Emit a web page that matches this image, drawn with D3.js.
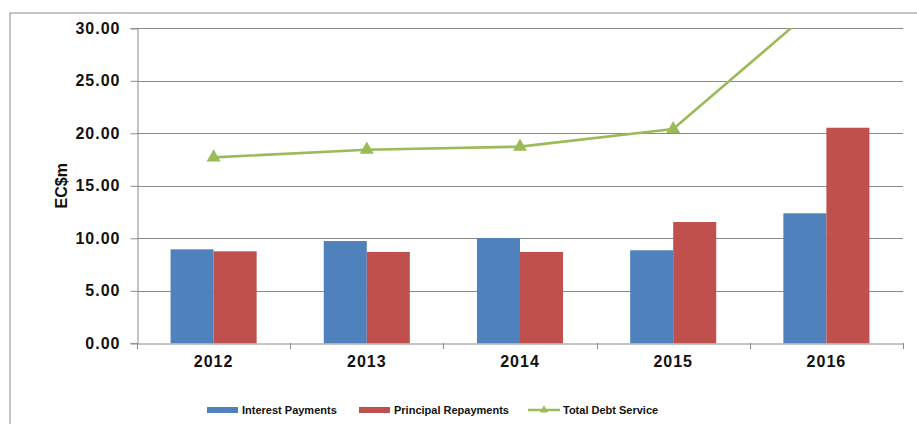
<!DOCTYPE html>
<html><head><meta charset="utf-8">
<script src="https://cdn.jsdelivr.net/npm/d3@7"></script>
<style>body{margin:0;background:#fff}svg{display:block}</style>
</head><body>
<script>
const years = ["2012","2013","2014","2015","2016"];
const interest = [8.95, 9.74, 10.03, 8.86, 12.38];
const principal = [8.76, 8.70, 8.70, 11.55, 20.53];
const total = [17.71, 18.44, 18.73, 20.41, 32.91];
const yTicks = [0, 5, 10, 15, 20, 25, 30];
const seriesNames = ["Interest Payments", "Principal Repayments", "Total Debt Service"];
const colors = ["#4F81BD", "#C0504D", "#9BBB59"];

const W = 917, H = 424;
const svg = d3.select("body").append("svg").attr("width", W).attr("height", H);
svg.append("rect").attr("x", 10).attr("y", 13).attr("width", 1000).attr("height", 1000)
  .attr("fill", "none").attr("stroke", "#8c8c8c").attr("stroke-width", 1);

const L = 137, R = 903, T = 28.3, B = 343.3;
const x = d3.scaleBand().domain(years).range([L, R]).paddingInner(0).paddingOuter(0);
const y = d3.scaleLinear().domain([0, 30]).range([B, T]);
const sub = d3.scaleBand().domain([0,1]).range([0, x.bandwidth()]).paddingOuter(0.78).paddingInner(0);
// grid
svg.append("g").selectAll("line").data(yTicks.filter(d=>d>0)).join("line")
  .attr("x1", L).attr("x2", R).attr("y1", d=>Math.round(y(d))+0.5).attr("y2", d=>Math.round(y(d))+0.5)
  .attr("stroke", "#8a8a8a").attr("stroke-width", 1);

// bars
const g = svg.append("g");
years.forEach((yr, i) => {
  [interest[i], principal[i]].forEach((v, j) => {
    g.append("rect").attr("x", x(yr) + sub(j)).attr("width", sub.bandwidth())
      .attr("y", y(v)).attr("height", B - y(v)).attr("fill", colors[j]);
  });
});

const FONT = "Liberation Sans, Arial, sans-serif";
// y axis
const ya = d3.axisLeft(y).tickValues(yTicks).tickFormat(d3.format(".2f")).tickSize(7).tickPadding(10);
const yg = svg.append("g").attr("transform", `translate(${L+0.5},0)`).call(ya);
yg.select(".domain").attr("stroke", "#8a8a8a");
yg.selectAll(".tick line").attr("stroke", "#8a8a8a");
yg.selectAll("text").attr("font-family", FONT).attr("font-weight", "bold")
  .attr("font-size", 16).attr("letter-spacing", "1px").attr("fill", "#111");

// x axis
const xa = d3.axisBottom(x).tickSize(0).tickPadding(12);
const xg = svg.append("g").attr("transform", `translate(0,${Math.round(B)+0.5})`).call(xa);
xg.select(".domain").attr("stroke", "#8a8a8a");
xg.selectAll("text").attr("font-family", FONT).attr("font-weight", "bold")
  .attr("font-size", 16).attr("letter-spacing", "1px").attr("fill", "#111");
// category boundary ticks
svg.append("g").selectAll("line").data(years.map(d=>x(d)).concat([R])).join("line")
  .attr("x1", d=>Math.round(d)+0.5).attr("x2", d=>Math.round(d)+0.5)
  .attr("y1", Math.round(B)).attr("y2", Math.round(B)+6).attr("stroke", "#8a8a8a");

// y label
svg.append("text").attr("transform", `translate(67,${(T+B)/2}) rotate(-90)`)
  .attr("text-anchor", "middle").attr("font-family", FONT)
  .attr("font-weight", "bold").attr("font-size", 16).attr("fill", "#111").text("EC$m");

// line (clipped to plot)
svg.append("clipPath").attr("id", "clip").append("rect").attr("x", L).attr("y", T).attr("width", R-L).attr("height", B-T);
const line = d3.line().x((d,i)=>x(years[i]) + x.bandwidth()/2).y(d=>y(d));
const lg = svg.append("g").attr("clip-path", "url(#clip)");
lg.append("path").datum(total).attr("d", line).attr("fill", "none").attr("stroke", colors[2]).attr("stroke-width", 2.6);
const tri = d3.symbol().type(d3.symbolTriangle).size(85);
lg.selectAll(".m").data(total).join("path").attr("class","m")
  .attr("transform", (d,i)=>`translate(${x(years[i]) + x.bandwidth()/2},${y(d)})`)
  .attr("d", tri).attr("fill", colors[2]);

// legend
const leg = svg.append("g").attr("font-family", FONT).attr("font-size", 11).attr("font-weight", "bold");
const legX = [207, 359, 528];
seriesNames.forEach((n, i) => {
  const gx = leg.append("g").attr("transform", `translate(${legX[i]},410)`);
  if (i < 2) {
    gx.append("rect").attr("x", 0).attr("y", -3).attr("width", 31).attr("height", 6).attr("fill", colors[i]);
  } else {
    gx.append("line").attr("x1", 0).attr("x2", 32).attr("y1", 0).attr("y2", 0).attr("stroke", colors[2]).attr("stroke-width", 2.5);
    gx.append("path").attr("transform", "translate(16,0)").attr("d", d3.symbol().type(d3.symbolTriangle).size(30)).attr("fill", colors[2]);
  }
  gx.append("text").attr("x", 35).attr("y", 4).attr("fill", "#111").text(n);
});
</script>
</body></html>
